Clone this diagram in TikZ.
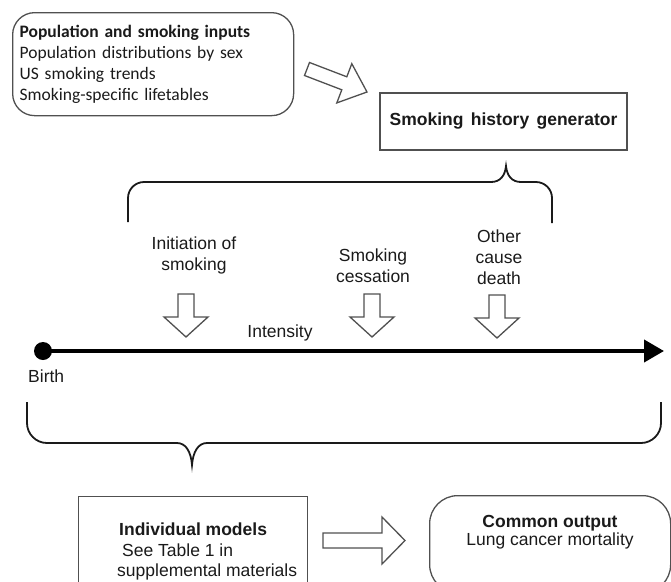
\documentclass[tikz,border=0pt]{standalone}
\usepackage{fontspec}
\setmainfont{Liberation Sans}
\newfontfamily\calibrifont{Carlito}
\usetikzlibrary{arrows.meta}
\definecolor{boxgray}{HTML}{505050}
\definecolor{inkblack}{HTML}{1A1A1A}
\begin{document}
\begin{tikzpicture}[x=1pt,y=-1pt,
  box/.style={draw=boxgray,line width=1.3pt},
  barrow/.style={draw=boxgray,line width=1.3pt,fill=white,line join=miter},
  bracepath/.style={draw=inkblack,line width=1.8pt},
  lbl/.style={inner sep=0pt,font=\fontsize{17.5}{21}\selectfont,text=inkblack},
  downarrow/.pic={\draw[barrow] (-8,0) -- (8,0) -- (8,23) -- (22,23) -- (0,43) -- (-22,23) -- (-8,23) -- cycle;}
]
\useasboundingbox (0,0) rectangle (671,581);
\clip (0,0) rectangle (671,581);

% inputs box
\node[box, rounded corners=22pt, anchor=north west, minimum width=281pt, minimum height=103pt,
      inner xsep=7pt, inner ysep=0pt, text width=267pt, align=left, text=inkblack,
      font=\calibrifont\fontsize{17.5}{21}\selectfont] (inputs) at (12,12)
  {\textbf{Population and smoking inputs}\\Population distributions by sex\\US smoking trends\\Smoking-specific lifetables};

% smoking history generator
\node[box, minimum width=247pt, minimum height=57pt, inner sep=0pt, lbl, font=\bfseries\fontsize{17.5}{20.5}\selectfont] (shg) at (503.5,121.5)
  {Smoking\hspace{2.5pt} history\hspace{2.5pt} generator};

% diagonal block arrow
\draw[barrow] (309.5,62.5) -- (346.8,76.8) -- (351.8,63.7) -- (367,92) -- (336.8,102.9) -- (341.8,89.8) -- (304.5,75.5) -- cycle;

% top brace
\coordinate (toptip) at (506,166);
\draw[bracepath] (128,222) -- (128,198) .. controls (128,189.2) and (135.2,182) .. (144,182) -- (491,182)
  .. controls (500,182) and (505,176) .. (toptip) .. controls (507,176) and (512,182) .. (521,182)
  -- (536,182) .. controls (544.8,182) and (552,189.2) .. (552,198) -- (552,223);

% labels (base anchor = baseline of the last line)
\node[lbl, align=center, anchor=base] (init) at (194,270) {Initiation of\\smoking};
\node[lbl, align=center, anchor=base] (cess) at (373,282) {Smoking\\cessation};
\node[lbl, align=center, anchor=base] (other) at (499,284) {Other\\cause\\death};

% down arrows
\pic at (186,294) {downarrow};
\pic at (372,294) {downarrow};
\pic at (497,295) {downarrow};

\node[lbl, anchor=base] (intensity) at (280,337) {Intensity};

% timeline
\node[circle, fill=black, inner sep=0pt, minimum size=18pt] (birthdot) at (43,351) {};
\coordinate (lineend) at (664,351);
\draw[line width=4pt, -{Triangle[length=20pt,width=22pt]}] (birthdot.center) -- (lineend);
\node[lbl, anchor=base west] (birth) at (28,382) {Birth};

% bottom brace
\coordinate (bottip) at (192,465);
\draw[bracepath] (27,402) -- (27,423) .. controls (27,434) and (36,443) .. (47,443) -- (177,443)
  .. controls (186,443) and (191,452) .. (bottip) .. controls (193,452) and (198,443) .. (207,443)
  -- (641,443) .. controls (652,443) and (661,434) .. (661,423) -- (661,402);

% individual models box
\node[box, anchor=north west, minimum width=229pt, minimum height=120pt, inner sep=0pt] (models) at (78,496) {};
\node[lbl, anchor=base west] (modelsA) at (119,535) {\bfseries Individual models};
\node[lbl, anchor=base west] (modelsB) at (122,556) {See Table 1 in};
\node[lbl, anchor=base west] (modelsC) at (117,576) {supplemental materials};

% common output box
\node[box, rounded corners=28pt, anchor=north west, minimum width=241pt, minimum height=97pt, inner sep=0pt] (common) at (429,495) {};
\node[lbl, align=center, anchor=base, font=\fontsize{17.5}{17.5}\selectfont] (commontext) at (550,545) {\textbf{Common output}\\Lung cancer mortality};

% horizontal block arrow
\draw[barrow] (323,533) -- (382,533) -- (382,517) -- (405,540.5) -- (382,564) -- (382,548) -- (323,548) -- cycle;
\end{tikzpicture}
\end{document}
